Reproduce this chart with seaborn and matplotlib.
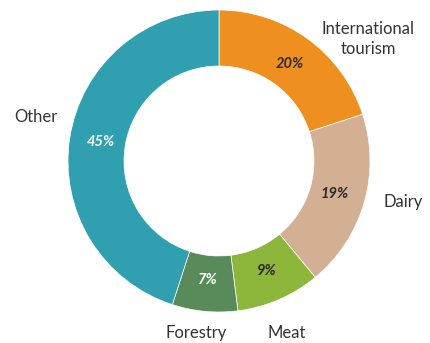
import numpy as np
import matplotlib
matplotlib.use("Agg")
import matplotlib.pyplot as plt
import seaborn as sns

categories = ["International\ntourism", "Dairy", "Meat", "Forestry", "Other"]
values = [20, 19, 9, 7, 45]
colors = ["#EE8F1F", "#D3AF94", "#8DB73A", "#588A5A", "#309FAF"]
pct_colors = ["#2b2b2b", "#2b2b2b", "#2b2b2b", "#ffffff", "#ffffff"]
# outer label anchor positions (x, y) in figure-pixel units
label_pos = [(368, 304), (403, 141), (287, 10), (196, 10), (36, 226)]

sns.set_theme(style="white")
plt.rcParams['font.family'] = ['Lato', 'DejaVu Sans']

fig = plt.figure(figsize=(4.31, 3.43), dpi=100)
ax = fig.add_axes([0, 0, 1, 1])
ax.set_xlim(0, 431)
ax.set_ylim(0, 343)
ax.set_aspect('equal')
ax.axis('off')

cx, cy, R, W = 219, 182, 151, 56
wedges, _ = ax.pie(values, colors=sns.color_palette(colors), startangle=90,
                   counterclock=False, center=(cx, cy), radius=R,
                   wedgeprops=dict(width=W, edgecolor='white', linewidth=0.5))
ax.set_xlim(0, 431)
ax.set_ylim(0, 343)

total = sum(values)
cum = 0
rmid = R - W / 2 - 3
for v, c, lbl, (lx, ly) in zip(values, pct_colors, categories, label_pos):
    mid = (cum + v / 2) / total * 2 * np.pi
    cum += v
    x = cx + rmid * np.sin(mid)
    y = cy + rmid * np.cos(mid)
    ax.text(x, y, f"{v}%", ha='center', va='center', fontsize=10.5,
            fontweight='bold', fontstyle='italic', color=c)
    ax.text(lx, ly, lbl, ha='center', va='center', fontsize=12,
            color='#333333', linespacing=1.3)

fig.savefig("out.png", dpi=100)
